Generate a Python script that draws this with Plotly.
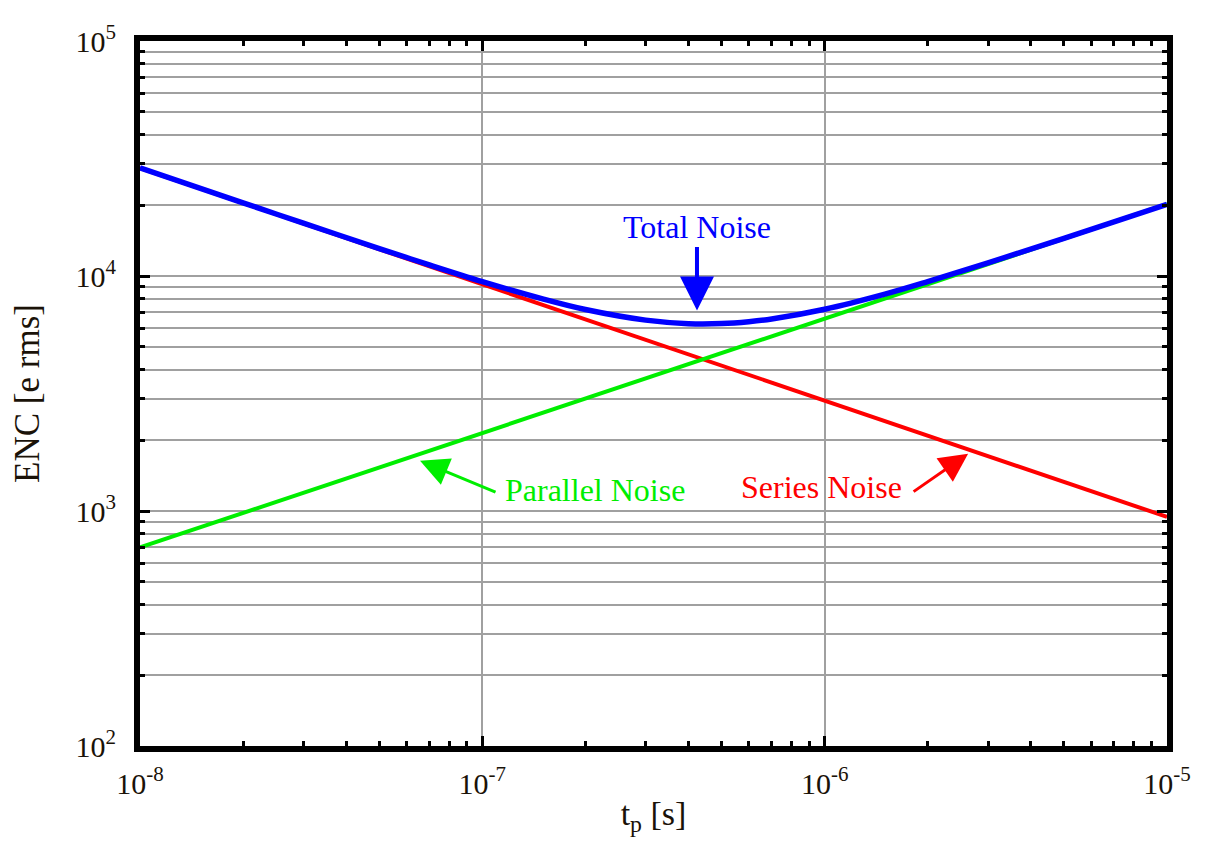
import plotly.graph_objects as go

# Data
tp_lines = [1e-8, 1e-7, 1e-6, 1e-5]
series_noise = [28800, 9230, 2950, 944]
parallel_noise = [700, 2150, 6580, 20200]

tp_total = [1e-8, 2e-8, 3e-8, 5e-8, 7e-8, 1e-7, 1.5e-7, 2e-7, 3e-7, 4e-7, 5e-7,
            6e-7, 7e-7, 1e-6, 1.5e-6, 2e-6, 3e-6, 5e-6, 1e-5]
total_noise = [28850, 20490, 16780, 13090, 11150, 9470, 7990, 7200, 6490, 6270, 6275,
               6390, 6560, 7215, 8370, 9460, 11365, 14470, 20200]

x_major = [1e-8, 1e-7, 1e-6, 1e-5]
x_major_text = ["10<sup>-8</sup>", "10<sup>-7</sup>", "10<sup>-6</sup>", "10<sup>-5</sup>"]
y_major = [1e2, 1e3, 1e4, 1e5]
y_major_text = ["10<sup>2</sup>", "10<sup>3</sup>", "10<sup>4</sup>", "10<sup>5</sup>"]
minor_mult = [2, 3, 4, 5, 6, 7, 8, 9]

x_minor = [m * d for d in [1e-8, 1e-7, 1e-6] for m in minor_mult]
y_minor = [m * d for d in [1e2, 1e3, 1e4] for m in minor_mult]

FONT = "'Liberation Serif', 'Times New Roman', 'DejaVu Serif', serif"
TXT = "#1a1208"

fig = go.Figure()
fig.add_trace(go.Scatter(x=tp_lines, y=series_noise, mode="lines",
                         line=dict(color="#ff0000", width=4), name="Series Noise"))
fig.add_trace(go.Scatter(x=tp_lines, y=parallel_noise, mode="lines",
                         line=dict(color="#00ee00", width=4), name="Parallel Noise"))
fig.add_trace(go.Scatter(x=tp_total, y=total_noise, mode="lines", line_shape="spline",
                         line=dict(color="#0000ff", width=5.5), name="Total Noise"))

axis_common = dict(
    showline=True, linecolor="black", linewidth=6, mirror="ticks",
    ticks="inside", ticklen=10, tickwidth=3, tickcolor="black",
    gridcolor="#a0a0a0", gridwidth=1.5, zeroline=False,
    tickfont=dict(family=FONT, size=30, color=TXT),
)

fig.update_xaxes(
    type="log", range=[-8, -5], tickmode="array", tickvals=x_major, ticktext=x_major_text,
    showgrid=True, ticklabelstandoff=6,
    minor=dict(tickmode="array", tickvals=x_minor, ticks="inside", ticklen=5,
               tickwidth=3, tickcolor="black", showgrid=False),
    title=dict(text="t<sub>p</sub> [s]", font=dict(family=FONT, size=34, color=TXT),
               standoff=4),
    **axis_common,
)
fig.update_yaxes(
    type="log", range=[2, 5], tickmode="array", tickvals=y_major, ticktext=y_major_text,
    showgrid=True, ticklabelstandoff=12,
    minor=dict(tickmode="array", tickvals=y_minor, ticks="inside", ticklen=5,
               tickwidth=3, tickcolor="black", showgrid=True, gridcolor="#a0a0a0",
               gridwidth=1.5),
    title=dict(text="ENC [e rms]", font=dict(family=FONT, size=35, color=TXT),
               standoff=30),
    **axis_common,
)

annotations = [
    # Total noise
    dict(x=-6.373, y=3.853, ax=0, ay=-65, text="", showarrow=True,
         arrowhead=2, arrowsize=1.7, arrowwidth=4, arrowcolor="#0000ff"),
    dict(x=-6.373, y=4.21, text="Total Noise", showarrow=False,
         font=dict(family=FONT, size=32, color="#0000ff")),
    # Parallel noise
    dict(x=-7.182, y=3.214, ax=77, ay=32, text="", showarrow=True,
         arrowhead=2, arrowsize=1.9, arrowwidth=3, arrowcolor="#00ee00"),
    dict(x=-6.671, y=3.088, text="Parallel Noise", showarrow=False,
         font=dict(family=FONT, size=32, color="#00ee00")),
    # Series noise
    dict(x=-5.581, y=3.244, ax=-56, ay=39, text="", showarrow=True,
         arrowhead=2, arrowsize=1.9, arrowwidth=3, arrowcolor="#ff0000"),
    dict(x=-6.008, y=3.101, text="Series Noise", showarrow=False,
         font=dict(family=FONT, size=32, color="#ff0000")),
]
for a in annotations:
    a["xref"] = "x"
    a["yref"] = "y"
    if a.get("showarrow"):
        a["axref"] = "pixel"
        a["ayref"] = "pixel"

fig.update_layout(
    width=1206, height=833,
    margin=dict(l=132, r=47, t=24, b=95),
    paper_bgcolor="white", plot_bgcolor="white",
    showlegend=False,
    annotations=annotations,
    font=dict(family=FONT),
)

fig.write_html("out.html")
